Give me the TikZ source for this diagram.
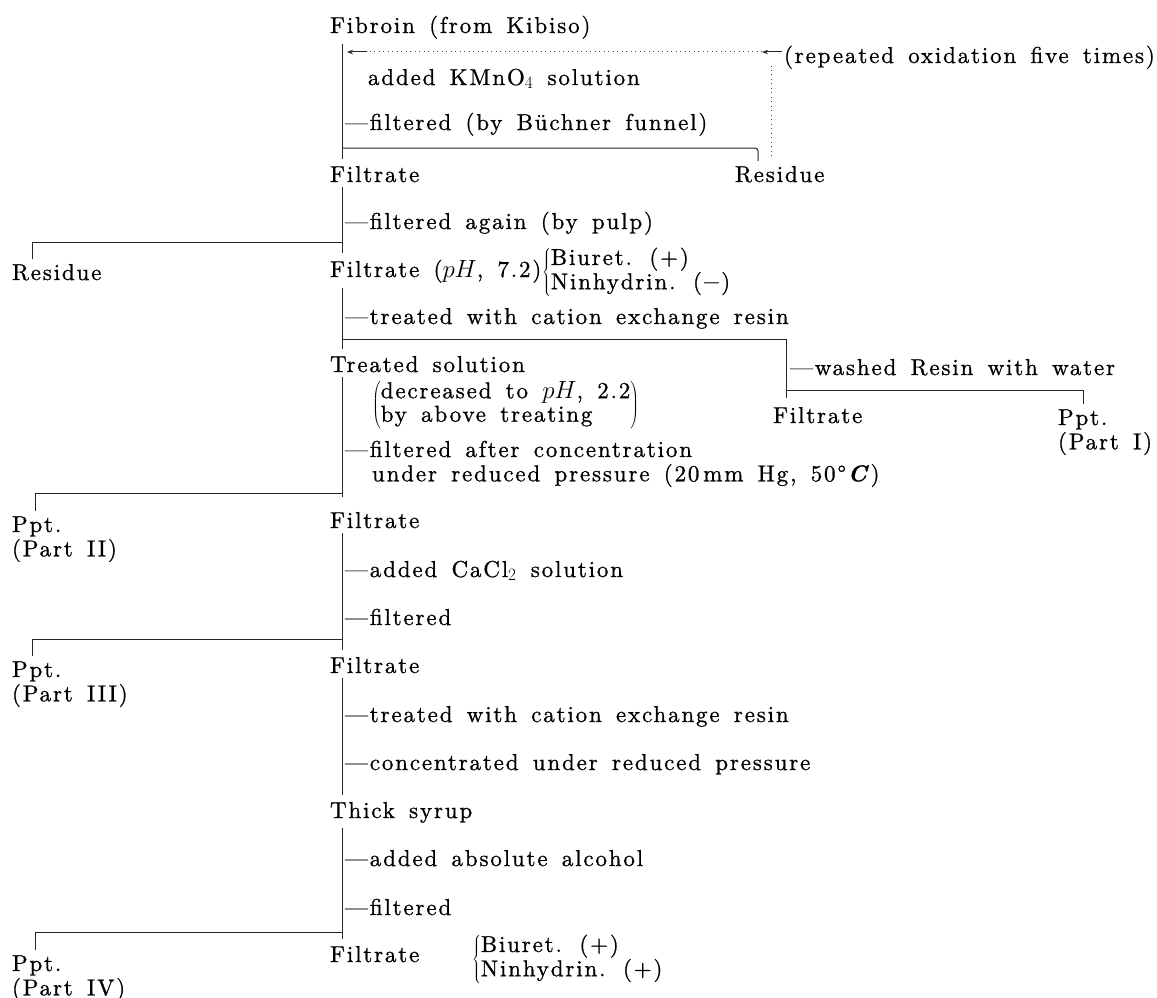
\documentclass[tikz,border=0pt]{standalone}
\usepackage{fontspec}
\setmainfont{lmroman10}[Extension=.otf, UprightFont=*-regular, ItalicFont=*-italic, BoldFont=*-bold, BoldItalicFont=*-bolditalic, LetterSpace=8, WordSpace=1.5, FakeBold=0.9]
\usetikzlibrary{arrows.meta}

\begin{document}
\begin{tikzpicture}[x=1pt, y=-1pt, >={Stealth[length=6pt,width=4.5pt]},
    every node/.style={font=\fontsize{23}{23.5}\selectfont, inner sep=0pt, outer sep=0pt, anchor=base west}]
    \tikzstyle{flow}=[line width=1pt, draw=black!85]
    \tikzstyle{spine}=[flow, shorten <=5pt, shorten >=7pt]
    \tikzstyle{branch}=[flow, shorten >=5pt]
    \tikzstyle{recycle}=[line width=1pt, draw=black!70, dash pattern=on 1pt off 3.5pt]
    \useasboundingbox (0,0) rectangle (1157,998);

    \coordinate (spine) at (342,0);

    % oxidation and first filtration
    \node (fibroin) at (330,33) {Fibroin (from Kibiso)};
    \node (repeat) at (784,63) {(repeated oxidation five times)};
    \node (kmno) at (368,85) {added KMnO$_4$ solution};
    \node (buchner) at (345,130) {—filtered (by Büchner funnel)};
    \node (filtA) at (330,182) {Filtrate};
    \node (resA) at (735,182) {Residue};

    \coordinate (jA) at (342,148);
    \draw[spine] (fibroin.south -| spine) -- (filtA.north -| spine);
    \draw[branch, rounded corners=3pt] (jA) -| ([xshift=23pt]resA.north west);

    \coordinate (loopup) at (771,66);
    \coordinate (loopin) at (782,52);
    \coordinate (loopmid) at (762,52);
    \coordinate (loopout) at (367,52);
    \coordinate (loopend) at (347,52);
    \draw[recycle, shorten <=10pt] ([xshift=36pt]resA.north west) -- (loopup);
    \draw[flow, ->] (loopin) -- (loopmid);
    \draw[recycle] (loopmid) -- (loopout);
    \draw[flow, ->] (loopout) -- (loopend);

    % pulp filtration
    \node (pulp) at (345,229) {—filtered again (by pulp)};
    \node (resB) at (12,280) {Residue};
    \node (filtB) at (330,277) {Filtrate ($pH$, 7.2)};
    \node[anchor=west] (testB) at (542,272) {$\left\{\begin{tabular}{@{}l@{}}Biuret. (+)\\Ninhydrin. ($-$)\end{tabular}\right.$};

    \coordinate (jB) at (342,242);
    \draw[spine] (filtA.south -| spine) -- (filtB.north -| spine);
    \draw[branch] (jB) -| ([xshift=20pt]resB.north west);

    % cation exchange
    \node (cation) at (345,324) {—treated with cation exchange resin};
    \node (treated) at (330,372) {Treated solution};
    \node[anchor=west] (decrease) at (372,405) {$\left(\begin{tabular}{@{}l@{}}decreased to $pH$, 2.2\\by above treating\end{tabular}\right)$};
    \node (wash) at (790,375) {—washed Resin with water};
    \node (filtR) at (773,423) {Filtrate};
    \node (pptA) at (1058,425) {\begin{tabular}[t]{@{}l@{}}Ppt.\\(Part I)\end{tabular}};

    \coordinate (jC) at (342,339);
    \coordinate (jD) at (786,390);
    \draw[spine] (filtB.south -| spine) -- (treated.north -| spine);
    \draw[branch, shorten >=9pt] (jC) -| ([xshift=13pt]filtR.north west);
    \draw[branch] (jD) -| ([xshift=25pt]pptA.north west);

    % concentration
    \node (concen) at (345,457) {\begin{tabular}[t]{@{}l@{}}—filtered after concentration\\\hspace*{27pt}under reduced pressure (20\,mm Hg, 50°\textbf{\textit{C}})\end{tabular}};
    \node (filtC) at (330,528) {Filtrate};
    \node (pptB) at (12,532) {\begin{tabular}[t]{@{}l@{}}Ppt.\\(Part II)\end{tabular}};

    \coordinate (jE) at (342,493);
    \draw[spine, shorten >=15pt] (treated.south -| spine) -- (filtC.north -| spine);
    \draw[branch] (jE) -| ([xshift=23pt]pptB.north west);

    % calcium chloride
    \node (cacl) at (345,577) {—added CaCl$_2$ solution};
    \node (filtered1) at (345,625) {—filtered};
    \node (filtD) at (330,673) {Filtrate};
    \node (pptC) at (12,677) {\begin{tabular}[t]{@{}l@{}}Ppt.\\(Part III)\end{tabular}};

    \coordinate (jF) at (342,639);
    \draw[spine] (filtC.south -| spine) -- (filtD.north -| spine);
    \draw[branch] (jF) -| ([xshift=20pt]pptC.north west);

    % second resin and syrup
    \node (cation2) at (345,722) {—treated with cation exchange resin};
    \node (concentrated) at (345,770) {—concentrated under reduced pressure};
    \node (syrup) at (330,818) {Thick syrup};
    \draw[spine] (filtD.south -| spine) -- (syrup.north -| spine);

    % alcohol
    \node (alcohol) at (345,866) {—added absolute alcohol};
    \node (filtered2) at (345,915) {—filtered};
    \node (filtE) at (330,962) {Filtrate};
    \node[anchor=west] (testE) at (472,959) {$\left\{\begin{tabular}{@{}l@{}}Biuret. (+)\\Ninhydrin. (+)\end{tabular}\right.$};
    \node (pptD) at (12,971) {\begin{tabular}[t]{@{}l@{}}Ppt.\\(Part IV)\end{tabular}};

    \coordinate (jG) at (342,932);
    \draw[spine] (syrup.south -| spine) -- (filtE.north -| spine);
    \draw[branch] (jG) -| ([xshift=23pt]pptD.north west);
\end{tikzpicture}
\end{document}
